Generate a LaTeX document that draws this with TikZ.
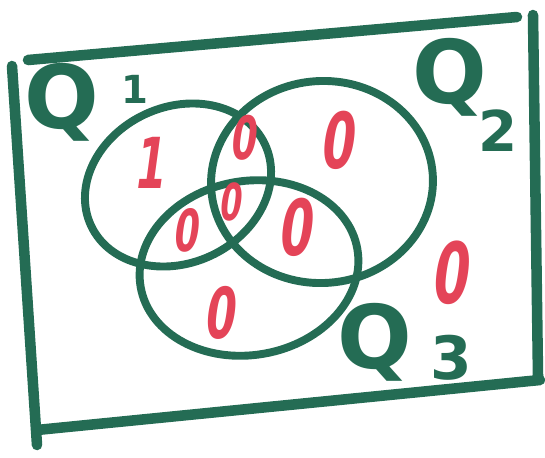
\documentclass[tikz,border=0pt]{standalone}
\usepackage{fontspec}
\setsansfont{DejaVu Sans}
\definecolor{pen}{RGB}{36,108,84}
\definecolor{ink}{RGB}{228,68,88}
\begin{document}
\begin{tikzpicture}[x=0.02cm,y=-0.02cm,
  frame/.style={pen, line width=6pt, line cap=round},
  setline/.style={pen, line width=4.5pt},
  qlabel/.style={pen, font=\sffamily\bfseries\fontsize{50}{50}\selectfont, inner sep=0pt},
  qsub/.style={pen, font=\sffamily\bfseries\fontsize{#1}{#1}\selectfont, inner sep=0pt},
  val/.style={ink, font=\sffamily\bfseries\fontsize{#1}{#1}\selectfont, inner sep=0pt, xscale=0.62, xslant=0.22, transform shape},
]
\useasboundingbox (0,0) rectangle (545,457);
% frame
\draw[frame] (28,60) -- (517,17);
\draw[frame] (12,66) -- (37,445);
\draw[frame] (37,430) -- (540,380);
\draw[frame] (533,15) -- (538,376);
% sets
\draw[setline, rotate around={25:(178,185)}] (178,185) ellipse [x radius=96, y radius=78];
\draw[setline, rotate around={4:(322,182)}] (322,182) ellipse [x radius=111, y radius=101];
\draw[setline, rotate around={10:(249,268)}] (249,268) ellipse [x radius=110, y radius=87];
% labels
\node[qlabel] (q1) at (62,102) {Q};
\node[qsub=22] (q1s) at (135,89) {1};
\node[qlabel] (q2) at (450,77) {Q};
\node[qsub=32] (q2s) at (498,131) {2};
\node[qlabel] (q3) at (375,342) {Q};
\node[qsub=34] (q3s) at (451,358) {3};
% values
\node[val=40] (v1) at (152,163) {1};
\node[val=34] (v12) at (245,138) {0};
\node[val=29] (v123) at (232,202) {0};
\node[val=33] (v13) at (188,230) {0};
\node[val=44] (v23) at (298,227) {0};
\node[val=44] (v2) at (340,140) {0};
\node[val=40] (v3) at (222,313) {0};
\node[val=48] (v0) at (453,273) {0};
\end{tikzpicture}
\end{document}
